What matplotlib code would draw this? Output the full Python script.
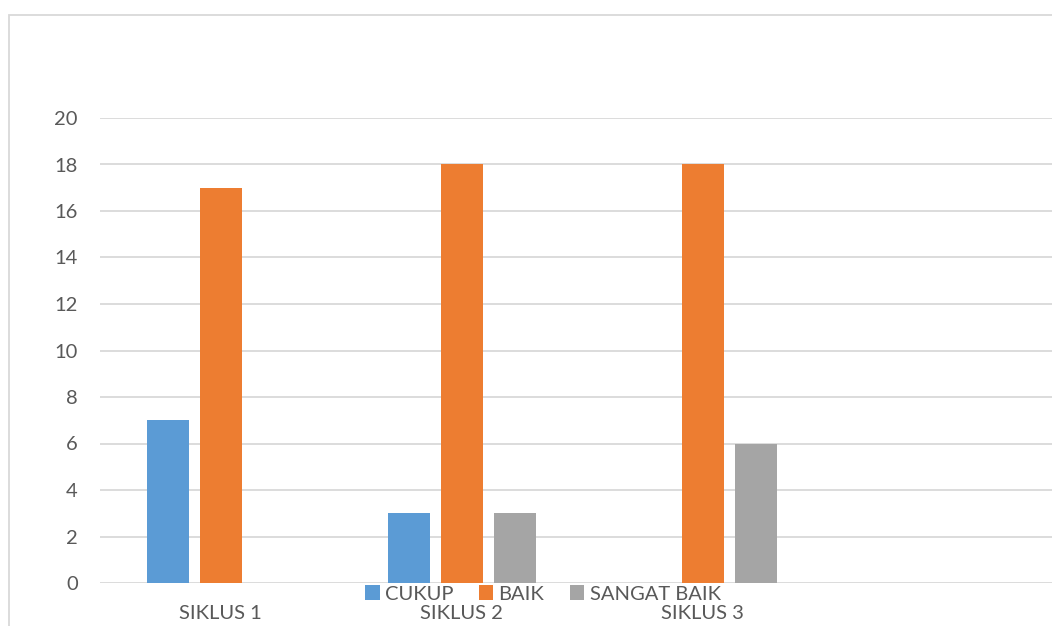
import matplotlib
matplotlib.use("Agg")
import matplotlib.pyplot as plt
import numpy as np
from matplotlib.patches import Rectangle

categories = ["SIKLUS 1", "SIKLUS 2", "SIKLUS 3", ""]
series_names = ["CUKUP", "BAIK", "SANGAT BAIK"]
cukup = [7, 3, 0, 0]
baik = [17, 18, 18, 0]
sangat_baik = [0, 3, 6, 0]
yticks = [0, 2, 4, 6, 8, 10, 12, 14, 16, 18, 20]

colors = ["#5B9BD5", "#ED7D31", "#A5A5A5"]
text_color = "#595959"

plt.rcParams['font.family'] = ['Lato', 'DejaVu Sans']

W, H = 1052, 626
fig = plt.figure(figsize=(W / 100, H / 100), dpi=100)
ax = fig.add_axes([100 / W, 1 - 583 / H, (1052 - 100) / W, (583 - 118) / H])

x = np.arange(len(categories))
bw = 42 / 241
off = 53 / 241
for i, (vals, name) in enumerate(zip([cukup, baik, sangat_baik], series_names)):
    ax.bar(x + (i - 1) * off, vals, width=bw, color=colors[i], label=name, zorder=3)

ax.set_ylim(0, 20)
ax.set_xlim(-0.5, -0.5 + 952 / 241)
ax.set_yticks(yticks)
ax.set_xticks(x)
ax.set_xticklabels(categories)
ax.grid(axis='y', color='#D9D9D9', linewidth=1.3, zorder=0)
for s in ax.spines.values():
    s.set_visible(False)
ax.tick_params(axis='both', length=0, labelsize=14.5, labelcolor=text_color)
ax.tick_params(axis='x', pad=16)
ax.tick_params(axis='y', pad=16)

leg = fig.legend(loc='center', bbox_to_anchor=(543 / W, 1 - 594 / H), ncol=3,
                 frameon=False, fontsize=14.5, handlelength=0.7, handleheight=0.7,
                 handletextpad=0.25, columnspacing=1.3, borderaxespad=0,
                 borderpad=0)
for t in leg.get_texts():
    t.set_color(text_color)

fig.patches.append(Rectangle((9.5 / W, -0.1), 1.2, 1 - 14.5 / H + 0.1,
                             transform=fig.transFigure, fill=False,
                             edgecolor='#D9D9D9', linewidth=1.3))

fig.savefig("out.png", dpi=100)
